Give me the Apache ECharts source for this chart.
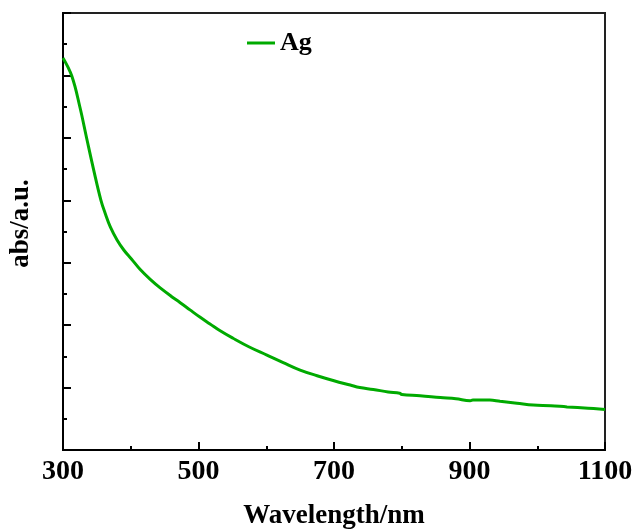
<!DOCTYPE html>
<html>
<head>
<meta charset="utf-8">
<script src="https://cdn.jsdelivr.net/npm/echarts@6/dist/echarts.min.js"></script>
<style>html,body{margin:0;padding:0;background:#fff}#c{width:635px;height:531px}</style>
</head>
<body>
<div id="c"></div>
<script>
var wavelengths = [300,313,325,335,345,356,363,370,380,390,401,414,430,443,460,473,488,502,517,532,551,575,601,625,650,675,700,724,738,758,780,797,800,827,857,880,901,905,930,945,970,994,1020,1044,1075,1100];
var absValues = [6.28,5.99,5.49,4.99,4.50,4.00,3.77,3.57,3.36,3.20,3.06,2.89,2.72,2.60,2.46,2.36,2.24,2.13,2.02,1.91,1.79,1.65,1.52,1.40,1.28,1.19,1.11,1.04,1.00,0.97,0.93,0.91,0.89,0.87,0.84,0.82,0.79,0.80,0.80,0.78,0.75,0.72,0.71,0.69,0.67,0.65];
var seriesName = 'Ag';
var xTicks = [300,500,700,900,1100];

var data = wavelengths.map(function(w,i){return [w, absValues[i]];});
var font = '"Liberation Serif","Times New Roman",serif';
var chart = echarts.init(document.getElementById('c'));
chart.setOption({
  animation:false,
  backgroundColor:'#fff',
  grid:{left:63,top:13,right:30,bottom:81,containLabel:false,outerBoundsMode:'none',show:true,borderColor:'#222',borderWidth:2,backgroundColor:'transparent'},
  legend:{
    data:[seriesName],left:242,top:25,itemWidth:28,itemHeight:14,itemGap:5,icon:'path://M0,6L28,6L28,9L0,9Z',
    textStyle:{fontFamily:font,fontWeight:'bold',fontSize:26,color:'#000'}
  },
  xAxis:{
    type:'value',min:300,max:1100,interval:200,
    name:'Wavelength/nm',nameLocation:'middle',nameGap:53,
    nameTextStyle:{fontFamily:font,fontWeight:'bold',fontSize:27,color:'#000'},
    axisLine:{show:true,lineStyle:{color:'#000',width:2}},
    axisTick:{show:true,inside:true,length:8,lineStyle:{color:'#000',width:2}},
    minorTick:{show:true,splitNumber:2,length:4,lineStyle:{color:'#000',width:2}},
    axisLabel:{margin:8,fontFamily:font,fontWeight:'bold',fontSize:28,color:'#000',
      formatter:function(v){return xTicks.indexOf(v)>=0?String(v):'';}},
    splitLine:{show:false}
  },
  yAxis:{
    type:'value',min:0,max:7,interval:1,
    name:'abs/a.u.',nameLocation:'middle',nameGap:28,
    nameTextStyle:{fontFamily:font,fontWeight:'bold',fontSize:27,color:'#000',padding:[0,0,0,16]},
    axisLine:{show:true,lineStyle:{color:'#000',width:2}},
    axisTick:{show:true,inside:true,length:8,lineStyle:{color:'#000',width:2}},
    minorTick:{show:true,splitNumber:2,length:4,lineStyle:{color:'#000',width:2}},
    axisLabel:{show:false},
    splitLine:{show:false}
  },
  series:[{
    name:seriesName,type:'line',data:data,showSymbol:false,smooth:0.4,
    lineStyle:{color:'#00aa00',width:3},itemStyle:{color:'#00aa00'}
  }]
});
</script>
</body>
</html>
